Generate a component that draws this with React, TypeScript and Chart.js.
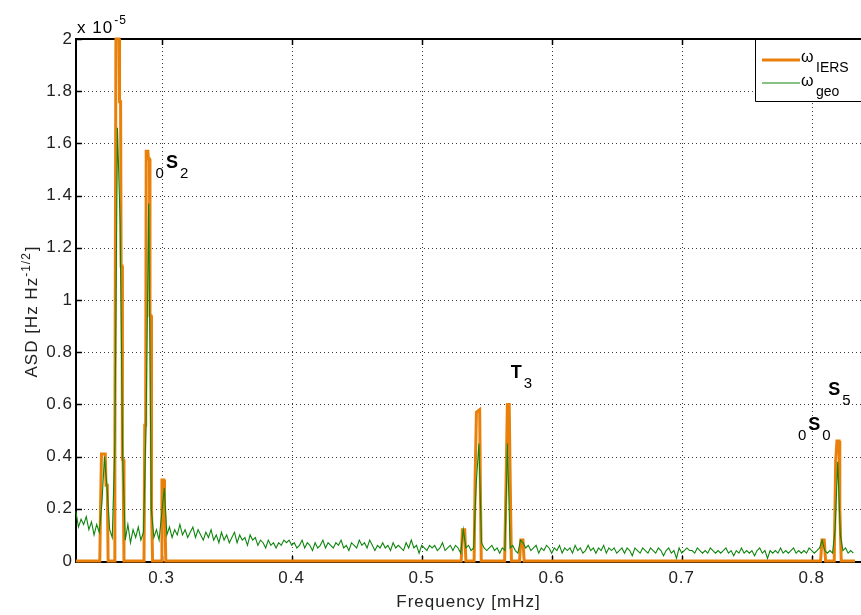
import React, { useEffect, useRef } from "react";
import { Chart, registerables } from "chart.js";

Chart.register(...registerables);

const FONT = '"Liberation Sans", Arial, Helvetica, sans-serif';

// Axis configuration (frequency in mHz, ASD in units of 1e-5 Hz Hz^-1/2)
const X_MIN = 0.2341;
const X_MAX = 0.8379;
const X_TICKS = [0.3, 0.4, 0.5, 0.6, 0.7, 0.8];
const X_TICK_LABELS = ["0.3", "0.4", "0.5", "0.6", "0.7", "0.8"];
const Y_TICKS = [0, 0.2, 0.4, 0.6, 0.8, 1, 1.2, 1.4, 1.6, 1.8, 2];
const Y_TICK_LABELS = ["0", "0.2", "0.4", "0.6", "0.8", "1", "1.2", "1.4", "1.6", "1.8", "2"];

// omega_IERS spectrum (orange): frequency / value pairs
const IERS_FREQ = [
  0.234, 0.2524, 0.253, 0.2537, 0.2566, 0.2572, 0.2582, 0.2588,
  0.2634, 0.264, 0.2648, 0.2672, 0.2676, 0.2684, 0.2688, 0.2695, 0.2698, 0.2703, 0.271,
  0.2864, 0.287, 0.2877, 0.2881, 0.2894, 0.2898, 0.2906, 0.291, 0.2918, 0.2922, 0.293,
  0.2996, 0.3002, 0.3018, 0.3022, 0.3032,
  0.5304, 0.5313, 0.5331, 0.534,
  0.5403, 0.5411, 0.5421, 0.5446, 0.5451, 0.5458,
  0.5638, 0.5649, 0.5659, 0.5673, 0.5681, 0.569,
  0.5753, 0.5762, 0.5779, 0.5788,
  0.8068, 0.8079, 0.8096, 0.8107,
  0.8173, 0.8184, 0.8194, 0.8211, 0.8216, 0.8227, 0.8333,
];
const IERS_ASD = [
  0, 0, 0.21, 0.41, 0.41, 0.29, 0.29, 0,
  0, 0.43, 2.0, 2.0, 1.76, 1.76, 1.13, 1.13, 0.39, 0.39, 0,
  0, 0.52, 0.52, 1.57, 1.57, 1.54, 1.54, 0.94, 0.94, 0.2, 0,
  0, 0.31, 0.31, 0.22, 0,
  0, 0.12, 0.12, 0,
  0, 0.32, 0.57, 0.58, 0.3, 0,
  0, 0.3, 0.6, 0.6, 0.3, 0,
  0, 0.08, 0.08, 0,
  0, 0.08, 0.08, 0,
  0, 0.38, 0.46, 0.46, 0.2, 0, 0,
];

// omega_geo spectrum (green): uniformly sampled from GEO_START with GEO_STEP
const GEO_START = 0.234;
const GEO_STEP = 0.002;
const GEO_ASD = [
  0.19, 0.13, 0.16, 0.14, 0.17, 0.12, 0.15, 0.10, 0.14, 0.11,
  0.22, 0.40, 0.28, 0.12, 0.09, 0.45, 1.66, 1.30, 0.40, 0.08,
  0.14, 0.07, 0.12, 0.09, 0.13, 0.08, 0.11, 0.52, 1.37, 0.20,
  0.09, 0.12, 0.08, 0.18, 0.28, 0.10, 0.13, 0.09, 0.12, 0.10,
  0.14, 0.10, 0.12, 0.09, 0.11, 0.13, 0.09, 0.12, 0.10, 0.08,
  0.11, 0.09, 0.12, 0.08, 0.10, 0.07, 0.11, 0.08, 0.10, 0.07,
  0.09, 0.11, 0.07, 0.10, 0.08, 0.09, 0.06, 0.10, 0.08, 0.09,
  0.06, 0.08, 0.07, 0.05, 0.08, 0.06, 0.07, 0.05, 0.07, 0.06,
  0.08, 0.07, 0.08, 0.06, 0.07, 0.05, 0.06, 0.08, 0.05, 0.07,
  0.06, 0.04, 0.07, 0.05, 0.06, 0.08, 0.05, 0.07, 0.06, 0.05,
  0.07, 0.06, 0.08, 0.05, 0.06, 0.04, 0.07, 0.06, 0.05, 0.08,
  0.06, 0.07, 0.05, 0.08, 0.06, 0.04, 0.06, 0.05, 0.07, 0.05,
  0.06, 0.04, 0.07, 0.05, 0.06, 0.05, 0.04, 0.07, 0.05, 0.08,
  0.05, 0.06, 0.03, 0.06, 0.05, 0.04, 0.06, 0.05, 0.06, 0.04,
  0.05, 0.07, 0.04, 0.05, 0.06, 0.04, 0.06, 0.05, 0.03, 0.12,
  0.05, 0.06, 0.04, 0.05, 0.30, 0.45, 0.07, 0.05, 0.04, 0.05,
  0.06, 0.04, 0.05, 0.03, 0.05, 0.04, 0.45, 0.05, 0.06, 0.04,
  0.03, 0.08, 0.07, 0.05, 0.06, 0.04, 0.05, 0.06, 0.03, 0.05,
  0.04, 0.06, 0.05, 0.03, 0.05, 0.04, 0.06, 0.03, 0.05, 0.04,
  0.05, 0.03, 0.06, 0.04, 0.05, 0.03, 0.04, 0.06, 0.04, 0.05,
  0.03, 0.05, 0.04, 0.06, 0.03, 0.05, 0.04, 0.05, 0.03, 0.04,
  0.05, 0.03, 0.05, 0.04, 0.02, 0.05, 0.04, 0.03, 0.05, 0.04,
  0.03, 0.05, 0.04, 0.03, 0.05, 0.04, 0.02, 0.04, 0.05, 0.03,
  0.04, 0.01, 0.05, 0.03, 0.04, 0.05, 0.04, 0.04, 0.03, 0.05,
  0.04, 0.03, 0.04, 0.03, 0.05, 0.04, 0.03, 0.04, 0.03, 0.04,
  0.05, 0.03, 0.04, 0.02, 0.04, 0.03, 0.05, 0.03, 0.04, 0.03,
  0.04, 0.02, 0.04, 0.05, 0.03, 0.04, 0.01, 0.04, 0.03, 0.04,
  0.03, 0.05, 0.03, 0.04, 0.03, 0.04, 0.05, 0.03, 0.04, 0.03,
  0.04, 0.03, 0.05, 0.04, 0.03, 0.04, 0.05, 0.08, 0.04, 0.03,
  0.04, 0.03, 0.12, 0.38, 0.10, 0.04, 0.05, 0.03, 0.04, 0.03,
];

// Mode labels (anchored at the main letter's left/baseline, in data coordinates)
const MODE_PRE = ["0", "", "", "0"];
const MODE_MAIN = ["S", "T", "S", "S"];
const MODE_SUB = ["2", "3", "5", "0"];
const MODE_FREQ = [0.3033, 0.5685, 0.8128, 0.7974];
const MODE_ASD = [1.506, 0.7, 0.636, 0.502];

const LEGEND_SYMBOL = ["\u03c9", "\u03c9"];
const LEGEND_SUB = ["IERS", "geo"];

const IERS_COLOR = "#e8800a";
const GEO_COLOR = "#0f850f";

const decorPlugin = {
  id: "decor",
  beforeDraw(chart: any) {
    chart.ctx.letterSpacing = "1px";
  },
  beforeDatasetsDraw(chart: any) {
    const { ctx, chartArea: a, scales } = chart;
    const x = scales.x;
    const y = scales.y;
    ctx.save();
    ctx.letterSpacing = "0px";
    // dotted grid
    ctx.strokeStyle = "#3a3a3a";
    ctx.lineWidth = 1;
    ctx.setLineDash([1, 3]);
    for (const v of X_TICKS) {
      const px = Math.round(x.getPixelForValue(v)) + 0.5;
      ctx.beginPath();
      ctx.moveTo(px, a.top);
      ctx.lineTo(px, a.bottom);
      ctx.stroke();
    }
    for (const v of Y_TICKS) {
      if (v === 0 || v === 2) continue;
      const py = Math.round(y.getPixelForValue(v)) + 0.5;
      ctx.beginPath();
      ctx.moveTo(a.left, py);
      ctx.lineTo(a.right, py);
      ctx.stroke();
    }
    ctx.setLineDash([]);
    // box
    ctx.strokeStyle = "#000";
    ctx.lineWidth = 2;
    ctx.beginPath();
    ctx.moveTo(a.left, a.top);
    ctx.lineTo(a.right, a.top);
    ctx.moveTo(a.left, a.top - 1);
    ctx.lineTo(a.left, a.bottom + 2);
    ctx.moveTo(a.left - 1, a.bottom + 1);
    ctx.lineTo(a.right, a.bottom + 1);
    ctx.stroke();
    // inward ticks
    ctx.lineWidth = 1.5;
    ctx.beginPath();
    for (const v of X_TICKS) {
      const px = Math.round(x.getPixelForValue(v)) + 0.5;
      ctx.moveTo(px, a.bottom + 1);
      ctx.lineTo(px, a.bottom - 5);
      ctx.moveTo(px, a.top);
      ctx.lineTo(px, a.top + 6);
    }
    for (const v of Y_TICKS) {
      const py = Math.round(y.getPixelForValue(v)) + 0.5;
      ctx.moveTo(a.left, py);
      ctx.lineTo(a.left + 6, py);
    }
    ctx.stroke();
    ctx.restore();
  },
  afterDatasetsDraw(chart: any) {
    const { ctx, chartArea: a, scales } = chart;
    const x = scales.x;
    const y = scales.y;
    ctx.save();
    ctx.letterSpacing = "0px";
    ctx.fillStyle = "#000";
    ctx.textBaseline = "alphabetic";
    // mode labels
    for (let i = 0; i < MODE_MAIN.length; i++) {
      const px = x.getPixelForValue(MODE_FREQ[i]);
      const py = y.getPixelForValue(MODE_ASD[i]);
      ctx.font = `bold 18px ${FONT}`;
      ctx.textAlign = "left";
      ctx.fillText(MODE_MAIN[i], px, py);
      const w = ctx.measureText(MODE_MAIN[i]).width;
      ctx.font = `15px ${FONT}`;
      if (MODE_SUB[i]) ctx.fillText(MODE_SUB[i], px + w + 2, py + 10);
      if (MODE_PRE[i]) {
        ctx.textAlign = "right";
        ctx.fillText(MODE_PRE[i], px - 2, py + 10);
      }
    }
    // legend
    const lx = 755;
    const ly = a.top;
    ctx.fillStyle = "#fff";
    ctx.fillRect(lx, ly, a.right - lx + 2, 62);
    ctx.strokeStyle = "#000";
    ctx.lineWidth = 1;
    ctx.beginPath();
    ctx.moveTo(lx + 0.5, ly);
    ctx.lineTo(lx + 0.5, ly + 62.5);
    ctx.lineTo(a.right + 2, ly + 62.5);
    ctx.stroke();
    ctx.lineWidth = 2;
    ctx.beginPath();
    ctx.moveTo(lx, ly);
    ctx.lineTo(a.right, ly);
    ctx.stroke();
    const rows = [
      { color: IERS_COLOR, width: 3, lineY: 60, symY: 62, subY: 72 },
      { color: GEO_COLOR, width: 1.2, lineY: 83, symY: 86, subY: 96 },
    ];
    rows.forEach((r, i) => {
      ctx.strokeStyle = r.color;
      ctx.lineWidth = r.width;
      ctx.beginPath();
      ctx.moveTo(762, r.lineY);
      ctx.lineTo(800, r.lineY);
      ctx.stroke();
      ctx.fillStyle = "#000";
      ctx.textAlign = "left";
      ctx.font = `16px ${FONT}`;
      ctx.fillText(LEGEND_SYMBOL[i], 801, r.symY);
      ctx.font = `14px ${FONT}`;
      ctx.fillText(LEGEND_SUB[i], 816, r.subY);
    });
    // exponent
    ctx.fillStyle = "#000";
    ctx.textAlign = "left";
    ctx.font = `17px ${FONT}`;
    ctx.letterSpacing = "1px";
    ctx.fillText("x 10", 77, 33);
    const ew = ctx.measureText("x 10").width;
    ctx.font = `12px ${FONT}`;
    ctx.fillText("-5", 77 + ew + 1, 24);
    // x title
    ctx.font = `17px ${FONT}`;
    ctx.fillStyle = "#222";
    ctx.textAlign = "center";
    ctx.fillText("Frequency [mHz]", (a.left + a.right) / 2, 607);
    // y title
    ctx.save();
    const cy = (a.top + a.bottom) / 2 + 12;
    ctx.translate(36.5, cy);
    ctx.rotate(-Math.PI / 2);
    ctx.textAlign = "left";
    ctx.font = `17px ${FONT}`;
    const p1 = "ASD [Hz Hz";
    const p2 = "-1/2";
    const p3 = "]";
    const w1 = ctx.measureText(p1).width;
    ctx.font = `12px ${FONT}`;
    const w2 = ctx.measureText(p2).width;
    ctx.font = `17px ${FONT}`;
    const w3 = ctx.measureText(p3).width;
    const start = -(w1 + w2 + w3) / 2;
    ctx.fillText(p1, start, 0);
    ctx.font = `12px ${FONT}`;
    ctx.fillText(p2, start + w1, -7);
    ctx.font = `17px ${FONT}`;
    ctx.fillText(p3, start + w1 + w2 + 1, 0);
    ctx.restore();
    ctx.restore();
  },
  afterDraw(chart: any) {
    chart.ctx.letterSpacing = "0px";
  },
};

export default function App() {
  const ref = useRef<HTMLCanvasElement>(null);
  useEffect(() => {
    document.body.style.margin = "0";
    document.body.style.overflow = "hidden";
    const canvas = ref.current;
    if (!canvas) return;
    const iersData = IERS_FREQ.map((f, i) => ({ x: f, y: IERS_ASD[i] }));
    const geoData = GEO_ASD.map((v, i) => ({ x: GEO_START + i * GEO_STEP, y: v }));
    const chart = new Chart(canvas, {
      type: "line",
      data: {
        datasets: [
          {
            label: "\u03c9geo",
            data: geoData,
            borderColor: GEO_COLOR,
            borderWidth: 1.1,
            pointRadius: 0,
            tension: 0,
            clip: { left: 2, top: 3, right: 0, bottom: 3 } as any,
          },
          {
            label: "\u03c9IERS",
            data: iersData,
            borderColor: IERS_COLOR,
            borderWidth: 3,
            pointRadius: 0,
            tension: 0,
            clip: { left: 2, top: 3, right: 0, bottom: 3 } as any,
          },
        ],
      },
      options: {
        animation: false,
        responsive: false,
        events: [],
        layout: { padding: { top: 39, left: 0, right: 0, bottom: 0 } },
        plugins: { legend: { display: false }, tooltip: { enabled: false } },
        scales: {
          x: {
            type: "linear",
            min: X_MIN,
            max: X_MAX,
            afterBuildTicks: (s: any) => {
              s.ticks = X_TICKS.map((v) => ({ value: v }));
            },
            afterFit: (s: any) => {
              s.height = 54;
            },
            grid: { display: false, drawTicks: false },
            border: { display: false },
            ticks: {
              autoSkip: false,
              maxRotation: 0,
              padding: 7,
              color: "#222",
              font: { family: FONT, size: 17 },
              callback: (v: any) => {
                const idx = X_TICKS.findIndex((t) => Math.abs(t - v) < 1e-9);
                return idx >= 0 ? X_TICK_LABELS[idx] : "";
              },
            },
          },
          y: {
            type: "linear",
            min: 0,
            max: 2,
            afterBuildTicks: (s: any) => {
              s.ticks = Y_TICKS.map((v) => ({ value: v }));
            },
            afterFit: (s: any) => {
              s.width = 76;
            },
            grid: { display: false, drawTicks: false },
            border: { display: false },
            ticks: {
              autoSkip: false,
              padding: 3,
              color: "#222",
              font: { family: FONT, size: 17 },
              callback: (v: any) => {
                const idx = Y_TICKS.findIndex((t) => Math.abs(t - v) < 1e-9);
                return idx >= 0 ? Y_TICK_LABELS[idx] : "";
              },
            },
          },
        },
      },
      plugins: [decorPlugin],
    });
    return () => chart.destroy();
  }, []);
  return (
    <div style={{ width: 861, height: 615 }}>
      <canvas ref={ref} width={861} height={615} style={{ display: "block", width: 861, height: 615 }} />
    </div>
  );
}
